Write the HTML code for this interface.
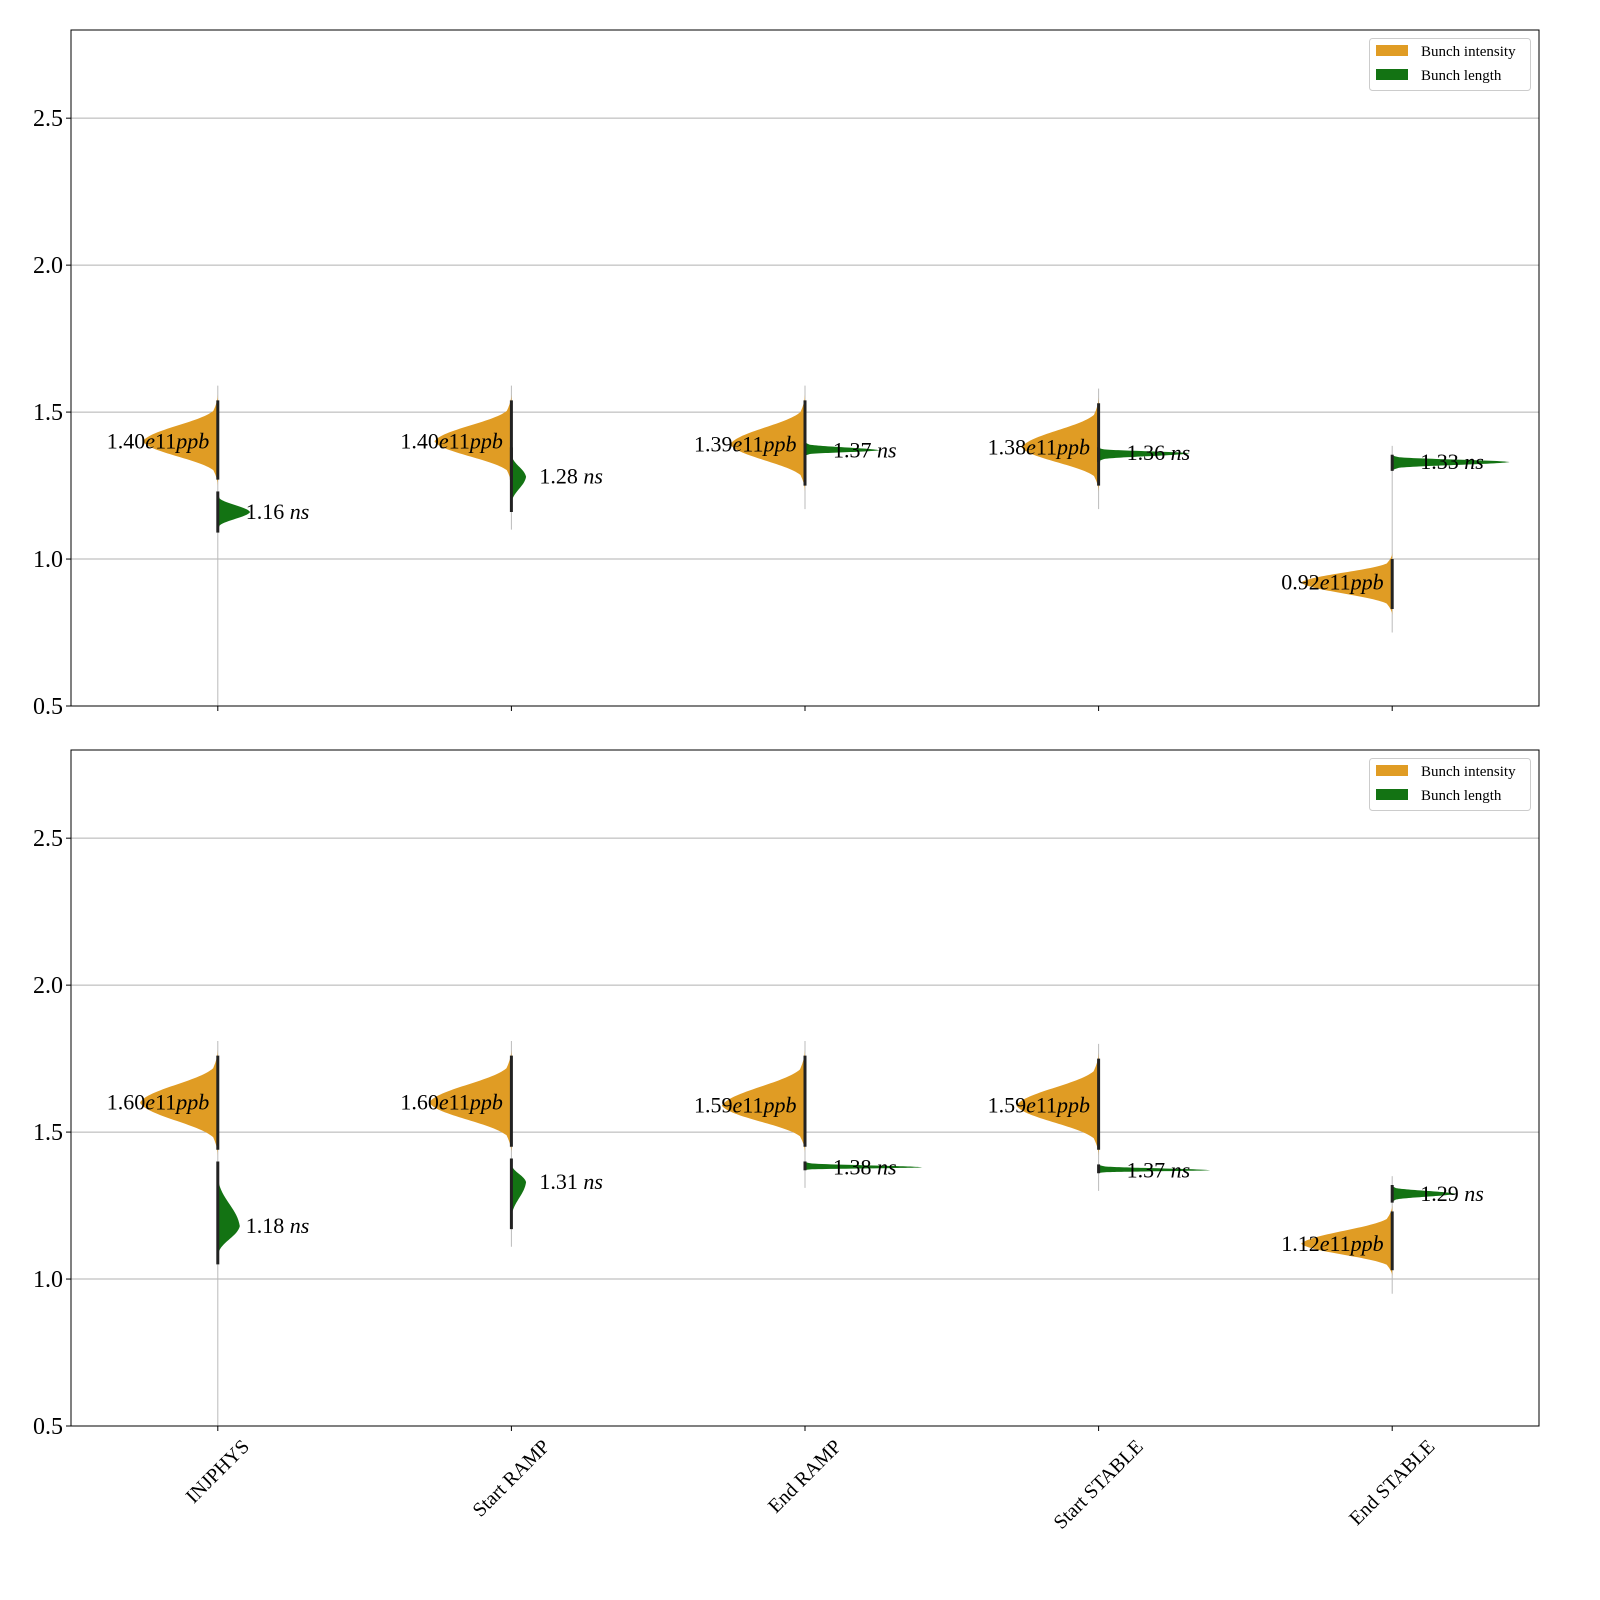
<!DOCTYPE html>
<html><head><meta charset="utf-8"><style>
html,body{margin:0;padding:0;background:#fff;width:100vw;height:100vh;overflow:hidden;}
svg{display:block;font-family:"Liberation Serif",serif;position:absolute;left:0;top:0;width:100vw;height:100vh;}
</style></head><body>
<svg id="chart" viewBox="0 0 1600 1600" preserveAspectRatio="none" xmlns="http://www.w3.org/2000/svg"></svg>
<script>
const categories = ["INJPHYS","Start RAMP","End RAMP","Start STABLE","End STABLE"];
const yTicks = [0.5,1.0,1.5,2.0,2.5];
// top panel
const topIntMean = [1.40,1.40,1.39,1.38,0.92];
const topIntHi   = [1.56,1.56,1.56,1.55,1.02];
const topIntLo   = [1.25,1.25,1.23,1.23,0.81];
const topIntW    = [0.255,0.262,0.255,0.262,0.31];
const topIntLabel= ["1.40","1.40","1.39","1.38","0.92"];
const topLenMean = [1.16,1.28,1.37,1.36,1.33];
const topLenHi   = [1.23,1.38,1.40,1.38,1.355];
const topLenLo   = [1.09,1.16,1.35,1.33,1.30];
const topLenW    = [0.11,0.05,0.255,0.31,0.40];
const topLenLabel= ["1.16","1.28","1.37","1.36","1.33"];
// bottom panel
const botIntMean = [1.60,1.60,1.59,1.59,1.12];
const botIntHi   = [1.78,1.78,1.78,1.77,1.25];
const botIntLo   = [1.42,1.43,1.43,1.42,1.01];
const botIntW    = [0.265,0.28,0.283,0.28,0.31];
const botIntLabel= ["1.60","1.60","1.59","1.59","1.12"];
const botLenMean = [1.18,1.33,1.38,1.37,1.29];
const botLenHi   = [1.40,1.41,1.40,1.39,1.32];
const botLenLo   = [1.05,1.17,1.37,1.36,1.26];
const botLenW    = [0.075,0.05,0.40,0.38,0.215];
const botLenLabel= ["1.18","1.31","1.38","1.37","1.29"];

const NS="http://www.w3.org/2000/svg";
const svg=document.getElementById('chart');
function el(tag,attrs,parent){const e=document.createElementNS(NS,tag);for(const k in attrs)e.setAttribute(k,attrs[k]);(parent||svg).appendChild(e);return e;}
const X0=71,X1=1539;
function xs(v){return X0+(v+0.5)/5*(X1-X0);}
const ORANGE="#e09c24",GREEN="#137313";

function panel(top,bottom,d,name){
  const g=el('g',{});
  
  
  const ys=v=>bottom-(v-0.5)/2.3*(bottom-top);
  yTicks.forEach(t=>{
    if(t>0.5){const gl=el('line',{x1:X0,x2:X1,y1:ys(t),y2:ys(t),stroke:'#b0b0b0','stroke-width':1},g);
      }
    const tk=el('line',{x1:X0-5,x2:X0,y1:ys(t),y2:ys(t),stroke:'#000'},g);
    
    const tl=el('text',{x:X0-8,y:ys(t)+8,'text-anchor':'end','font-size':24},g);
    tl.textContent=t.toFixed(1);
    
  });
  categories.forEach((c,i)=>{
    const cx=xs(i);
    const tk=el('line',{x1:cx,x2:cx,y1:bottom,y2:bottom+5,stroke:'#000'},g);
    
    const lo=Math.min(d.iLo[i],d.lLo[i])-0.06, hi=Math.max(d.iHi[i],d.lHi[i])+0.03;
    const wl=el('line',{x1:cx,x2:cx,y1:ys(hi),y2:i===0?bottom:ys(lo),stroke:'#bbbbbb','stroke-width':1},g);
    
    function half(mean,hi,lo,w,dir,color,nm){
      const W=w*(X1-X0)/5;
      const tx=cx+dir*W, ty=ys(mean), yt=ys(hi), yb=ys(lo);
      const h1=ty-yt, h2=yb-ty;
      const p=`M${tx},${ty} `+
        `C${tx-dir*0.1*W},${ty-0.25*h1} ${cx+dir*0.25*W},${ty-0.4*h1} ${cx+dir*0.06*W},${ty-0.65*h1} `+
        `Q${cx},${ty-0.85*h1} ${cx},${yt} L${cx},${yb} `+
        `Q${cx},${ty+0.85*h2} ${cx+dir*0.06*W},${ty+0.65*h2} `+
        `C${cx+dir*0.25*W},${ty+0.4*h2} ${tx-dir*0.1*W},${ty+0.25*h2} ${tx},${ty} Z`;
      const pe=el('path',{d:p,fill:color},g);
      
    }
    half(d.iM[i],d.iHi[i],d.iLo[i],d.iW[i],-1,ORANGE,'intensity-violin');
    half(d.lM[i],d.lHi[i],d.lLo[i],d.lW[i],1,GREEN,'length-violin');
    const b1=el('line',{x1:cx,x2:cx,y1:ys(d.iHi[i]-0.02),y2:ys(d.iLo[i]+0.02),stroke:'#222','stroke-width':3},g);
    
    const b2=el('line',{x1:cx,x2:cx,y1:ys(d.lHi[i]),y2:ys(d.lLo[i]),stroke:'#222','stroke-width':3},g);
    
    const t1=el('text',{x:cx-111,y:ys(d.iM[i])+7,'font-size':22},g);
    t1.innerHTML=d.iL[i]+'<tspan font-style="italic">e</tspan>11<tspan font-style="italic">ppb</tspan>';
    
    const t2=el('text',{x:cx+28,y:ys(d.lM[i])+7,'font-size':22},g);
    t2.innerHTML=d.lL[i]+' <tspan font-style="italic">ns</tspan>';
    
  });
  const fr=el('rect',{x:X0,y:top,width:X1-X0,height:bottom-top,fill:'none',stroke:'#000','stroke-width':1},g);
  
  const lg=el('g',{},g);
  
  el('rect',{x:1369.5,y:top+8.5,width:161,height:52,rx:3,fill:'#fff',stroke:'#ccc'},lg);
  [["Bunch intensity",ORANGE],["Bunch length",GREEN]].forEach((e,k)=>{
    const r=el('rect',{x:1376,y:top+15+k*24,width:32,height:11,fill:e[1]},lg);
    
    const t=el('text',{x:1421,y:top+26+k*24,'font-size':15},lg);
    t.textContent=e[0];
    
  });
}
panel(30,706,{iM:topIntMean,iHi:topIntHi,iLo:topIntLo,iW:topIntW,iL:topIntLabel,lM:topLenMean,lHi:topLenHi,lLo:topLenLo,lW:topLenW,lL:topLenLabel},'top-panel');
panel(750,1426,{iM:botIntMean,iHi:botIntHi,iLo:botIntLo,iW:botIntW,iL:botIntLabel,lM:botLenMean,lHi:botLenHi,lLo:botLenLo,lW:botLenW,lL:botLenLabel},'bottom-panel');
categories.forEach((c,i)=>{
  const cx=xs(i);
  const t=el('text',{'font-size':20,'text-anchor':'middle'});
  t.textContent=c;
  
  
  const w=t.getComputedTextLength()||c.length*11;
  const cy=1437+(w+18)*0.7071/2;
  t.setAttribute('x',cx);t.setAttribute('y',cy+6);
  t.setAttribute('transform',`rotate(-45 ${cx} ${cy})`);
});
</script>
</body></html>
